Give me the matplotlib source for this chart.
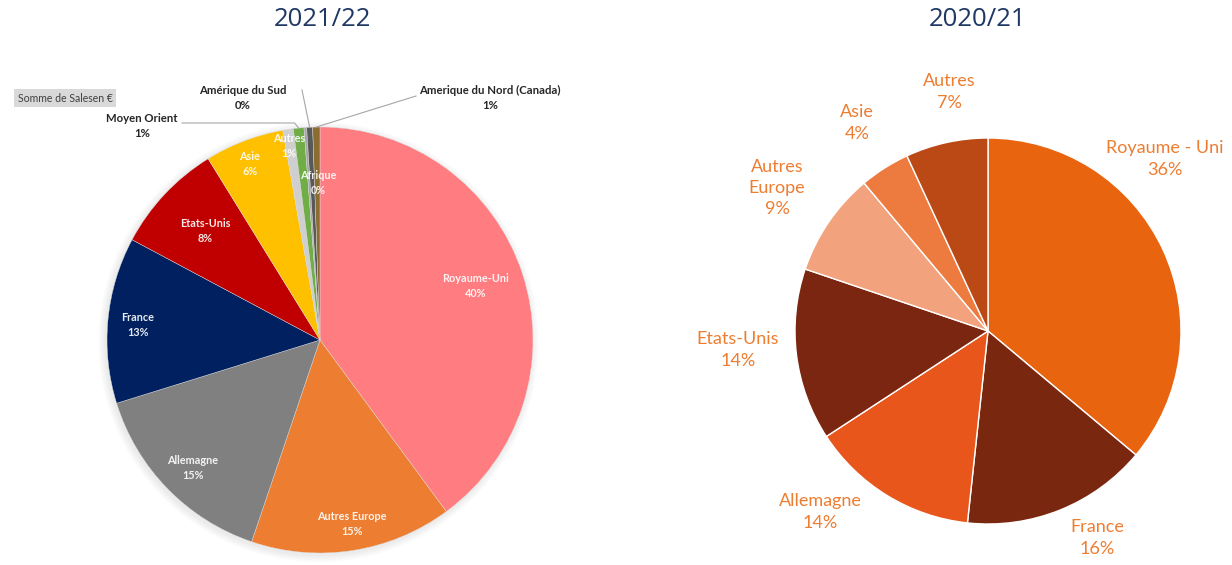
import numpy as np
import matplotlib.pyplot as plt
from matplotlib.patches import Circle

W, H = 1232, 565

# 2021/22 - Somme de Sales en €
labels_22 = ['Royaume-Uni', 'Autres Europe', 'Allemagne', 'France', 'Etats-Unis', 'Asie',
             'Autres', 'Moyen Orient', 'Afrique', 'Amérique du Sud', 'Amerique du Nord (Canada)']
shares_22 = [39.9, 15.3, 15.0, 12.6, 8.4, 6.0, 0.8, 0.8, 0.2, 0.45, 0.55]
colors_22 = ['#FF7C80', '#ED7D31', '#808080', '#002060', '#C00000', '#FFC000',
             '#CFCFCF', '#70AD47', '#A5A5A5', '#595959', '#8C6D31']

# 2020/21
labels_21 = ['Royaume - Uni', 'France', 'Allemagne', 'Etats-Unis', 'Autres\nEurope', 'Asie', 'Autres']
shares_21 = [36.1, 15.6, 14.1, 14.4, 8.7, 4.2, 6.9]
colors_21 = ['#E8640E', '#7A2710', '#E8561B', '#7A2610', '#F2A27C', '#ED7A3F', '#BB4916']

plt.rcParams['font.family'] = ['Lato', 'DejaVu Sans']

fig = plt.figure(figsize=(W / 100, H / 100), dpi=100)
ax = fig.add_axes([0, 0, 1, 1])


def px(x, y):
    # picture coords (y down) -> axes coords
    return x, H - y


# ---- left pie (2021/22)
c22 = px(320, 340)
r22 = 213
for k in range(5):
    ax.add_patch(Circle((c22[0] - 1.5, c22[1] - 2), r22 + 1 + k * 1.5, color='#808080',
                        alpha=0.03, lw=0, zorder=0))
wedges22, _ = ax.pie(shares_22, colors=colors_22, startangle=90, counterclock=False,
                     center=c22, radius=r22, frame=True,
                     wedgeprops=dict(linewidth=0.3, edgecolor='#DDDDDD'))

pct22 = [f'{round(v / sum(shares_22) * 100)}%' for v in shares_22]
inside_pos = {
    'Royaume-Uni': (476, 286), 'Autres Europe': (352, 524), 'Allemagne': (193, 468),
    'France': (138, 325), 'Etats-Unis': (205, 231), 'Asie': (250, 164),
    'Autres': (289, 146), 'Afrique': (318, 183),
}
outside_pos = {
    'Moyen Orient': (142, 126), 'Amérique du Sud': (243, 98),
    'Amerique du Nord (Canada)': (490, 98),
}
leader_start = {
    'Moyen Orient': (182, 123), 'Amérique du Sud': (302, 90),
    'Amerique du Nord (Canada)': (416, 96),
}
for name, pct, w in zip(labels_22, pct22, wedges22):
    if name in inside_pos:
        x, y = px(*inside_pos[name])
        ax.text(x, y, f'{name}\n{pct}', color='white', fontsize=7.8, fontweight='bold',
                ha='center', va='center', linespacing=1.55, alpha=0.9)
    else:
        x, y = px(*outside_pos[name])
        ax.text(x, y, f'{name}\n{pct}', color='#262626', fontsize=8.2, fontweight='bold',
                ha='center', va='center', linespacing=1.5)
        mid = np.deg2rad((w.theta1 + w.theta2) / 2)
        ex, ey = c22[0] + r22 * np.cos(mid), c22[1] + r22 * np.sin(mid)
        sx, sy = px(*leader_start[name])
        if name == 'Moyen Orient':
            ax.plot([sx, ex - 4, ex], [sy, sy, ey], color='#A6A6A6', lw=0.8, zorder=5)
        else:
            ax.plot([sx, ex], [sy, ey], color='#A6A6A6', lw=0.8, zorder=5)

bx, by = px(65, 98)
ax.text(bx, by, 'Somme de Salesen €', fontsize=7.6, color='#404040', ha='center', va='center',
        bbox=dict(boxstyle='square,pad=0.35', facecolor='#D9D9D9', edgecolor='none'))

# ---- right pie (2020/21)
c21 = px(988, 331)
r21 = 193
wedges21, _ = ax.pie(shares_21, colors=colors_21, startangle=90, counterclock=False,
                     center=c21, radius=r21, frame=True,
                     wedgeprops=dict(linewidth=1, edgecolor='white'))

pct21 = [f'{round(v / sum(shares_21) * 100)}%' for v in shares_21]
label_pos_21 = {
    'Royaume - Uni': (1165, 159), 'France': (1097, 538), 'Allemagne': (820, 512),
    'Etats-Unis': (738, 350), 'Autres\nEurope': (777, 188), 'Asie': (857, 123),
    'Autres': (949, 92),
}
for name, pct in zip(labels_21, pct21):
    x, y = px(*label_pos_21[name])
    ax.text(x, y, f'{name}\n{pct}', color='#ED7D31', fontsize=13,
            ha='center', va='center', linespacing=1.4)

# titles
for t, (x, y) in [('2021/22', (322, 20)), ('2020/21', (977, 20))]:
    tx, ty = px(x, y)
    ax.text(tx, ty, t, fontsize=18.5, color='#1F3864', ha='center', va='center',
            family=['Open Sans', 'DejaVu Sans'])

ax.set_xlim(0, W)
ax.set_ylim(0, H)
ax.set_aspect('equal')
ax.axis('off')

fig.savefig('out.png', dpi=100)
